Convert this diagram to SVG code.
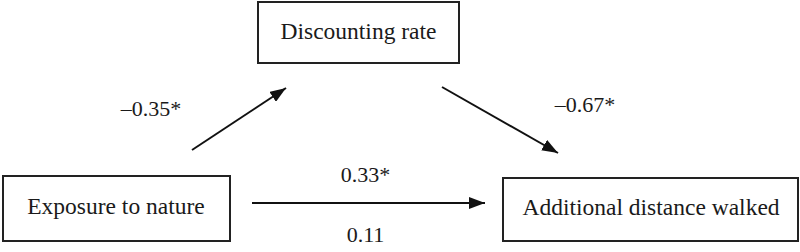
<svg xmlns="http://www.w3.org/2000/svg" width="800" height="252" viewBox="0 0 800 252">
<style>
.box{fill:#fff;stroke:#222;stroke-width:2}
.nt{font-family:"Liberation Serif","Times New Roman",serif;font-size:23.5px;fill:#1a1a1a;text-anchor:middle}
.lb{font-family:"Liberation Serif","Times New Roman",serif;font-size:22px;fill:#1a1a1a;text-anchor:middle}
.ar{stroke:#111;stroke-width:2;fill:none;marker-end:url(#ah)}
</style>
<defs>
<marker id="ah" viewBox="0 0 16 12" refX="16" refY="6" markerWidth="16" markerHeight="12" markerUnits="userSpaceOnUse" orient="auto">
<path d="M0,0 L16,6 L0,12 z" fill="#111"/>
</marker>
</defs>
<g id="discounting">
<rect class="box" x="258" y="2" width="201" height="61"/>
<text class="nt" x="358.5" y="39">Discounting rate</text>
</g>
<g id="exposure">
<rect class="box" x="3" y="176" width="227" height="65"/>
<text class="nt" x="116" y="214">Exposure to nature</text>
</g>
<g id="distance">
<rect class="box" x="503" y="178" width="295" height="63"/>
<text class="nt" x="651" y="215">Additional distance walked</text>
</g>
<g id="connectors">
<line class="ar" x1="192" y1="150" x2="286" y2="88"/>
<line class="ar" x1="442" y1="87" x2="558" y2="153"/>
<line class="ar" x1="252" y1="203" x2="485" y2="203"/>
<text class="lb" x="151" y="116">–0.35*</text>
<text class="lb" x="585" y="112">–0.67*</text>
<text class="lb" x="365.5" y="182">0.33*</text>
<text class="lb" x="365.5" y="242">0.11</text>
</g>
</svg>
